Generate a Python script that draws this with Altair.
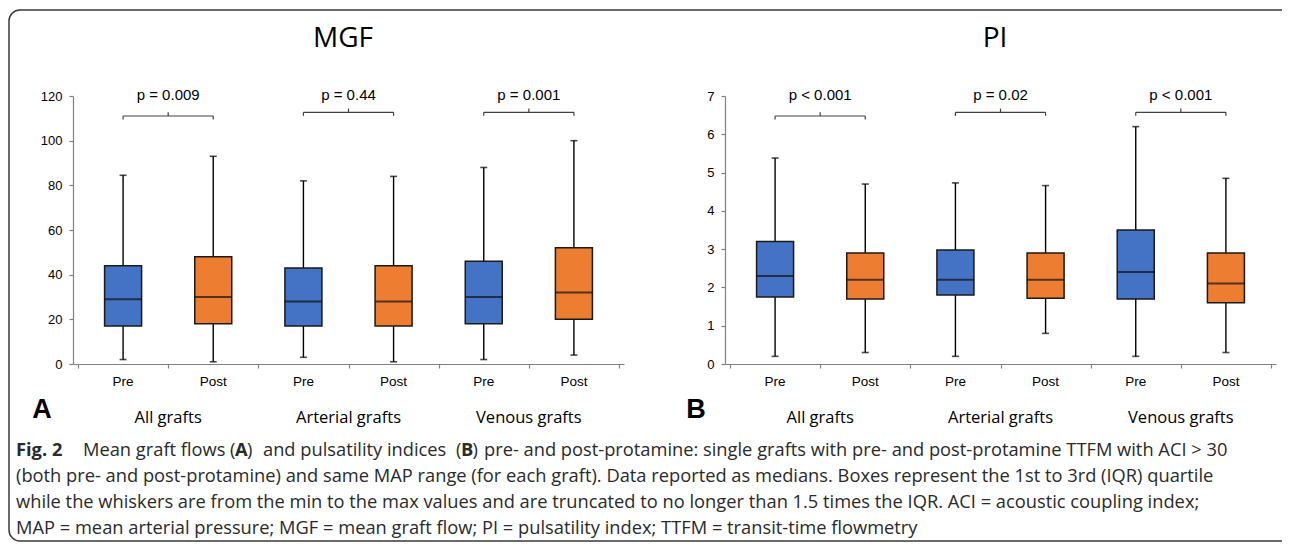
import altair as alt
import pandas as pd

# ---------------- data ----------------
timepoints = ["Pre", "Post", "Pre", "Post", "Pre", "Post"]
groups = ["All grafts", "Arterial grafts", "Venous grafts"]

mgf_min = [2, 1, 3, 1, 2, 4]
mgf_q1 = [17, 18, 17, 17, 18, 20]
mgf_med = [29, 30, 28, 28, 30, 32]
mgf_q3 = [44, 48, 43, 44, 46, 52]
mgf_max = [84.5, 93, 82, 84, 88, 100]
mgf_p = ["p = 0.009", "p = 0.44", "p = 0.001"]
mgf_ticks = [0, 20, 40, 60, 80, 100, 120]

pi_min = [0.2, 0.3, 0.2, 0.8, 0.2, 0.3]
pi_q1 = [1.75, 1.7, 1.8, 1.72, 1.7, 1.6]
pi_med = [2.3, 2.2, 2.2, 2.2, 2.4, 2.1]
pi_q3 = [3.2, 2.9, 2.98, 2.9, 3.5, 2.9]
pi_max = [5.38, 4.7, 4.73, 4.66, 6.2, 4.85]
pi_p = ["p < 0.001", "p = 0.02", "p < 0.001"]
pi_ticks = [0, 1, 2, 3, 4, 5, 6, 7]

caption_lines = [
    "(both pre- and post-protamine) and same MAP range (for each graft). Data reported as medians. Boxes represent the 1st to 3rd (IQR) quartile",
    "while the whiskers are from the min to the max values and are truncated to no longer than 1.5 times the IQR. ACI = acoustic coupling index;",
    "MAP = mean arterial pressure; MGF = mean graft flow; PI = pulsatility index; TTFM = transit-time flowmetry",
]

BLUE = "#4472C4"
ORANGE = "#ED7D31"
AX = "#808080"
W, H = 551, 268
SANS = "Liberation Sans"
HUM = "Open Sans"
CAP_COLOR = "#2a2a2a"
CAP_SIZE = 18.3


def panel(vmin, q1, med, q3, vmax, ticks, pvals, title, letter, extra=None):
    pos = [i + 0.5 for i in range(6)]
    df = pd.DataFrame({"pos": pos, "tp": timepoints, "lo": vmin, "q1": q1,
                       "med": med, "q3": q3, "hi": vmax})
    caps = pd.DataFrame({"pos": pos + pos, "val": list(vmin) + list(vmax)})
    xscale = alt.Scale(domain=[0, 6], nice=False, zero=False)
    yscale = alt.Scale(domain=[ticks[0], ticks[-1]], nice=False, zero=True)
    xaxis = alt.Axis(values=list(range(7)), labels=False, title=None, grid=False,
                     tickSize=4, domainColor=AX, tickColor=AX, domainWidth=1.2, tickWidth=1.2)
    yaxis = alt.Axis(values=ticks, title=None, grid=False, tickSize=4,
                     domainColor=AX, tickColor=AX, domainWidth=1.2, tickWidth=1.2,
                     labelFont=SANS, labelFontSize=13, labelColor="black", labelPadding=7)

    def X(f="pos"):
        return alt.X(f + ":Q", scale=xscale, axis=xaxis)

    def Y(f):
        return alt.Y(f + ":Q", scale=yscale, axis=yaxis)

    base = alt.Chart(df)
    whisk = base.mark_rule(color="black", strokeWidth=1.4).encode(x=X(), y=Y("lo"), y2="hi:Q")
    capm = alt.Chart(caps).mark_tick(orient="horizontal", size=7, thickness=1.6,
                                     color="black").encode(x=X(), y=Y("val"))
    box = base.mark_bar(size=37, stroke="#1a1a1a", strokeWidth=1.5).encode(
        x=X(), y=Y("q1"), y2="q3:Q",
        color=alt.Color("tp:N", scale=alt.Scale(domain=["Pre", "Post"], range=[BLUE, ORANGE]),
                        legend=None))
    medm = base.mark_tick(orient="horizontal", size=37, thickness=2,
                          color="#111111").encode(x=X(), y=Y("med"))
    xlab = base.mark_text(font=SANS, fontSize=13.5, baseline="middle", color="black").encode(
        x=X(), y=alt.value(286), text="tp:N")

    layers = [whisk, capm, box, medm, xlab]

    gdf = pd.DataFrame({"x1": pos[0::2], "x2": pos[1::2],
                        "mid": [p + 0.5 for p in pos[0::2]], "grp": groups, "p": pvals})
    for i in range(3):
        row = gdf.iloc[[i]]
        lvl = 20 if i == 0 else 16.3
        b = alt.Chart(row)
        layers.append(b.mark_rule(color="#404040", strokeWidth=1.2).encode(
            x=X("x1"), x2="x2:Q", y=alt.value(lvl)))
        layers.append(b.mark_rule(color="#404040", strokeWidth=1.2).encode(
            x=X("x1"), y=alt.value(lvl), y2=alt.value(lvl + 3.5)))
        layers.append(b.mark_rule(color="#404040", strokeWidth=1.2).encode(
            x=X("x2"), y=alt.value(lvl), y2=alt.value(lvl + 3.5)))
        layers.append(b.mark_rule(color="#404040", strokeWidth=1.2).encode(
            x=X("mid"), y=alt.value(lvl - 3.7), y2=alt.value(lvl)))
        layers.append(b.mark_text(font=SANS, fontSize=15, baseline="middle",
                                  color="black").encode(x=X("mid"), y=alt.value(-1), text="p:N"))
    layers.append(alt.Chart(gdf).mark_text(font=HUM, fontSize=16.5, baseline="middle",
                                           color="black").encode(
        x=X("mid"), y=alt.value(322), text="grp:N"))

    one = alt.Chart(pd.DataFrame({"t": [title], "l": [letter]}))
    layers.append(one.mark_text(font=HUM, fontSize=28, baseline="middle", color="black").encode(
        x=alt.value(270), y=alt.value(-57), text="t:N"))
    layers.append(one.mark_text(font=SANS, fontSize=27, fontWeight="bold", baseline="middle",
                                color="black").encode(
        x=alt.value(-31 if letter == "A" else -29), y=alt.value(314), text="l:N"))
    if extra:
        layers += extra
    return alt.layer(*layers).properties(width=W, height=H)


# caption and frame, drawn in left panel's coordinates (origin at its plot area)
OX, OY = 72, 96
cap = alt.Chart(pd.DataFrame({"a": [0]}))
extra = []
extra.append(cap.mark_rect(cornerRadius=11, fillOpacity=0, fill="white", stroke="#3a3a3a",
                           strokeWidth=1.5).encode(
    x=alt.value(8 - OX), x2=alt.value(1294 - OX), y=alt.value(10 - OY), y2=alt.value(541 - OY)))

line1 = [("Fig. 2", 15, True), ("Mean graft flows", 82, False), ("(", 229, False),
         ("A", 234, True), (")", 246, False), ("and pulsatility indices", 262, False),
         ("(", 455, False), ("B", 460, True), (")", 471.5, False),
         ("pre- and post-protamine: single grafts with pre- and post-protamine TTFM with ACI > 30", 483, False)]
for txt, px, bold in line1:
    extra.append(cap.mark_text(font=HUM, fontSize=CAP_SIZE, align="left", baseline="middle",
                               fontWeight="bold" if bold else "normal", color=CAP_COLOR).encode(
        x=alt.value(px - OX), y=alt.value(451 - OY), text=alt.value(txt)))
for k, txt in enumerate(caption_lines):
    extra.append(cap.mark_text(font=HUM, fontSize=CAP_SIZE, align="left", baseline="middle",
                               color=CAP_COLOR).encode(
        x=alt.value(15 - OX), y=alt.value(477 + 26 * k - OY), text=alt.value(txt)))

left = panel(mgf_min, mgf_q1, mgf_med, mgf_q3, mgf_max, mgf_ticks, mgf_p, "MGF", "A", extra)
right = panel(pi_min, pi_q1, pi_med, pi_q3, pi_max, pi_ticks, pi_p, "PI", "B")

# negative right padding keeps the svg within the page width (frame runs off the edge as in the figure)
chart = alt.hconcat(left, right, spacing=101, bounds="flush").properties(
    padding={"left": 0, "top": 1, "right": -14, "bottom": 0}
).configure_view(stroke=None)

chart.save("out.html", embed_options={"renderer": "svg", "actions": False})
